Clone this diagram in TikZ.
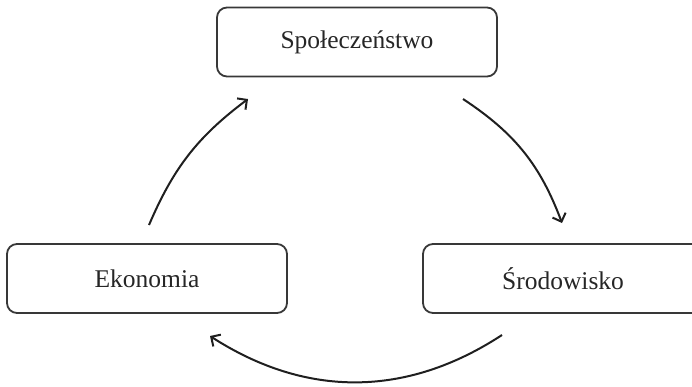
\documentclass[tikz,border=0pt]{standalone}
\usepackage{fontspec}
\setmainfont{Liberation Serif}
\usetikzlibrary{arrows.meta}
\begin{document}
\begin{tikzpicture}[x=1pt,y=-1pt,
  box/.style={draw=black!78, line width=1.8pt, rounded corners=10pt,
    minimum width=280pt, minimum height=69pt, inner sep=0pt,
    font=\fontsize{25.5}{30}\selectfont, text=black!85},
  flow/.style={draw=black!88, line width=2pt,
    -{Straight Barb[length=7pt,width=14pt,line width=2pt]}}]
\useasboundingbox (0,0) rectangle (692,386);
\node[box] (soc) at (357,42) {Społeczeństwo};
\node[box] (eko) at (147,278.5) {Ekonomia};
\node[box] (sro) at (563,278.5) {Środowisko};
\coordinate (a1s) at (149,225);
\coordinate (a1e) at (248,99);
\coordinate (a2s) at (463,99);
\coordinate (a2e) at (562,223);
\coordinate (a3s) at (502,335);
\coordinate (a3e) at (210,336);
\draw[flow] (a1s) to[bend left=15] (a1e);
\draw[flow] (a2s) to[bend left=18] (a2e);
\draw[flow] (a3s) to[bend left=33] (a3e);
\end{tikzpicture}
\end{document}
